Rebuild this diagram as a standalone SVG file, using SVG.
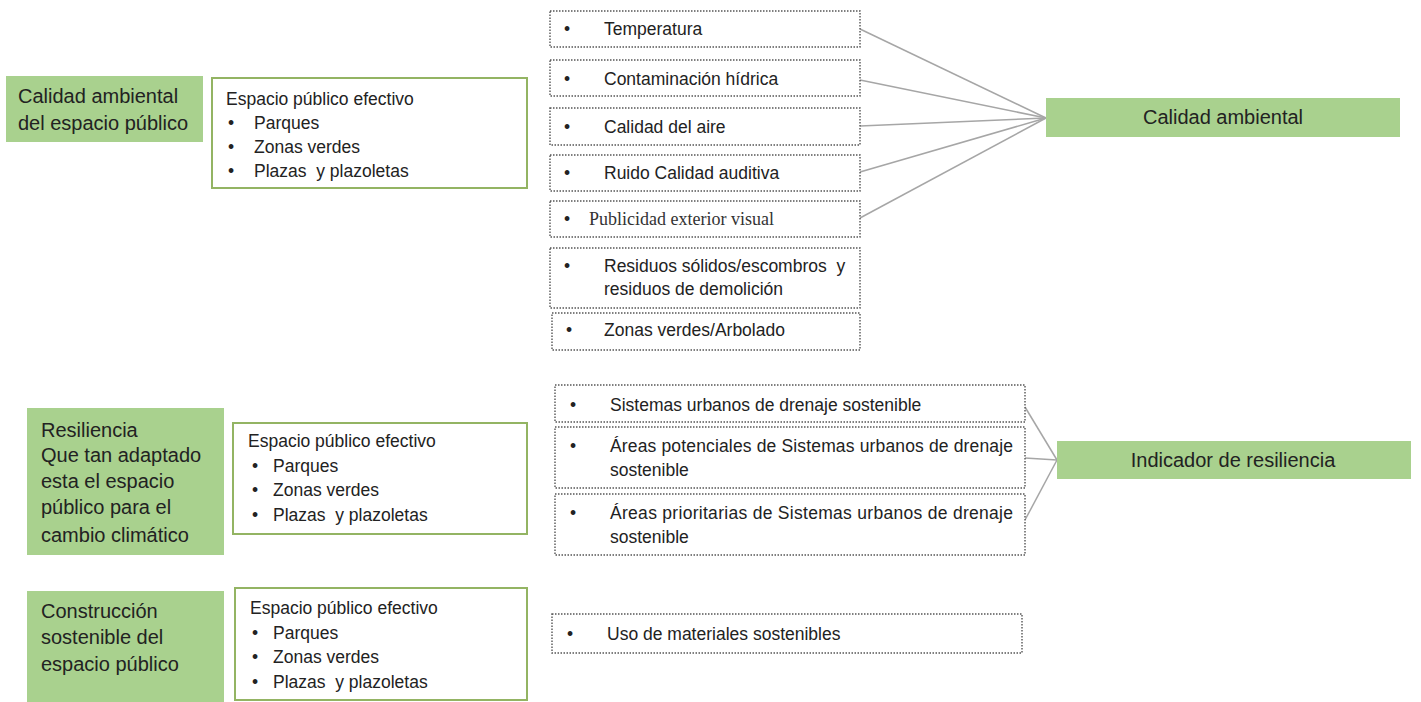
<svg xmlns="http://www.w3.org/2000/svg" width="1421" height="702" viewBox="0 0 1421 702">
<style>
.g{fill:#a9d18e;stroke:none}
.w{fill:#fff;stroke:#93b463;stroke-width:2}
.d{fill:#fff;stroke:#555;stroke-width:1.4;stroke-dasharray:1.5 1.5}
.t{font-family:"Liberation Sans",Arial,sans-serif;font-size:20px;fill:#222}
.s{font-family:"Liberation Sans",Arial,sans-serif;font-size:17.5px;fill:#222}
.p{font-family:"Liberation Serif","Times New Roman",serif;font-size:18px;fill:#333}
.c{stroke:#a6a6a6;stroke-width:1.5;fill:none}
</style>
<rect width="1421" height="702" fill="#fff"/>
<g id="connectors">
<line class="c" x1="860" y1="29" x2="1046" y2="118"/>
<line class="c" x1="860" y1="80" x2="1046" y2="118"/>
<line class="c" x1="860" y1="126" x2="1046" y2="118"/>
<line class="c" x1="860" y1="172" x2="1046" y2="118"/>
<line class="c" x1="860" y1="218" x2="1046" y2="118"/>
<line class="c" x1="1025" y1="407" x2="1057" y2="460"/>
<line class="c" x1="1025" y1="458" x2="1057" y2="460"/>
<line class="c" x1="1025" y1="520" x2="1057" y2="460"/>
</g>
<g id="calidad-ambiental-espacio">
<rect class="g" x="6" y="76" width="197" height="66"/>
<text class="t" x="18" y="103">Calidad ambiental</text>
<text class="t" x="18" y="130">del espacio público</text>
</g>
<g id="espacio-1">
<rect class="w" x="212" y="78" width="315" height="110"/>
<text class="s" x="226" y="105">Espacio público efectivo</text>
<text class="s" x="228" y="129">•</text><text class="s" x="254" y="129">Parques</text>
<text class="s" x="228" y="153">•</text><text class="s" x="254" y="153">Zonas verdes</text>
<text class="s" x="228" y="177">•</text><text class="s" x="254" y="177" xml:space="preserve">Plazas  y plazoletas</text>
</g>
<g id="temperatura">
<rect class="d" x="550" y="11" width="310" height="36"/>
<text class="s" x="564" y="35">•</text><text class="s" x="604" y="35">Temperatura</text>
</g>
<g id="contaminacion">
<rect class="d" x="550" y="60" width="310" height="36"/>
<text class="s" x="564" y="85">•</text><text class="s" x="604" y="85">Contaminación hídrica</text>
</g>
<g id="aire">
<rect class="d" x="550" y="108" width="310" height="37"/>
<text class="s" x="564" y="133">•</text><text class="s" x="604" y="133">Calidad del aire</text>
</g>
<g id="ruido">
<rect class="d" x="550" y="155" width="310" height="36"/>
<text class="s" x="564" y="179">•</text><text class="s" x="604" y="179">Ruido Calidad auditiva</text>
</g>
<g id="publicidad">
<rect class="d" x="550" y="201" width="310" height="36"/>
<text class="s" x="564" y="225">•</text><text class="p" x="589" y="225">Publicidad exterior visual</text>
</g>
<g id="residuos">
<rect class="d" x="550" y="248" width="310" height="60"/>
<text class="s" x="564" y="272">•</text><text class="s" x="604" y="272" xml:space="preserve">Residuos sólidos/escombros  y</text>
<text class="s" x="604" y="295">residuos de demolición</text>
</g>
<g id="arbolado">
<rect class="d" x="552" y="313" width="308" height="37"/>
<text class="s" x="566" y="336">•</text><text class="s" x="604" y="336">Zonas verdes/Arbolado</text>
</g>
<g id="calidad-ambiental">
<rect class="g" x="1046" y="98" width="354" height="39"/>
<text class="t" x="1223" y="124" text-anchor="middle">Calidad ambiental</text>
</g>
<g id="resiliencia">
<rect class="g" x="27" y="408" width="197" height="147"/>
<text class="t" x="41" y="437">Resiliencia</text>
<text class="t" x="41" y="462">Que tan adaptado</text>
<text class="t" x="41" y="488">esta el espacio</text>
<text class="t" x="41" y="514">público para el</text>
<text class="t" x="41" y="542">cambio climático</text>
</g>
<g id="espacio-2">
<rect class="w" x="233" y="423" width="294" height="111"/>
<text class="s" x="248" y="447">Espacio público efectivo</text>
<text class="s" x="252" y="472">•</text><text class="s" x="273" y="472">Parques</text>
<text class="s" x="252" y="496">•</text><text class="s" x="273" y="496">Zonas verdes</text>
<text class="s" x="252" y="521">•</text><text class="s" x="273" y="521" xml:space="preserve">Plazas  y plazoletas</text>
</g>
<g id="suds">
<rect class="d" x="555" y="385" width="470" height="37"/>
<text class="s" x="570" y="411">•</text><text class="s" x="610" y="411">Sistemas urbanos de drenaje sostenible</text>
</g>
<g id="areas-potenciales">
<rect class="d" x="555" y="427" width="470" height="61"/>
<text class="s" x="570" y="452">•</text><text class="s" x="610" y="452" textLength="403" lengthAdjust="spacing">Áreas potenciales de Sistemas urbanos de drenaje</text>
<text class="s" x="610" y="476">sostenible</text>
</g>
<g id="areas-prioritarias">
<rect class="d" x="555" y="494" width="470" height="61"/>
<text class="s" x="570" y="519">•</text><text class="s" x="610" y="519" textLength="403" lengthAdjust="spacing">Áreas prioritarias de Sistemas urbanos de drenaje</text>
<text class="s" x="610" y="543">sostenible</text>
</g>
<g id="indicador-resiliencia">
<rect class="g" x="1057" y="441" width="354" height="38"/>
<text class="t" x="1233" y="467" text-anchor="middle">Indicador de resiliencia</text>
</g>
<g id="construccion">
<rect class="g" x="27" y="591" width="197" height="111"/>
<text class="t" x="41" y="618">Construcción</text>
<text class="t" x="41" y="644">sostenible del</text>
<text class="t" x="41" y="671">espacio público</text>
</g>
<g id="espacio-3">
<rect class="w" x="235" y="588" width="292" height="112"/>
<text class="s" x="250" y="614">Espacio público efectivo</text>
<text class="s" x="252" y="639">•</text><text class="s" x="273" y="639">Parques</text>
<text class="s" x="252" y="663">•</text><text class="s" x="273" y="663">Zonas verdes</text>
<text class="s" x="252" y="688">•</text><text class="s" x="273" y="688" xml:space="preserve">Plazas  y plazoletas</text>
</g>
<g id="materiales">
<rect class="d" x="552" y="614" width="470" height="39"/>
<text class="s" x="567" y="640">•</text><text class="s" x="607" y="640">Uso de materiales sostenibles</text>
</g>
</svg>
